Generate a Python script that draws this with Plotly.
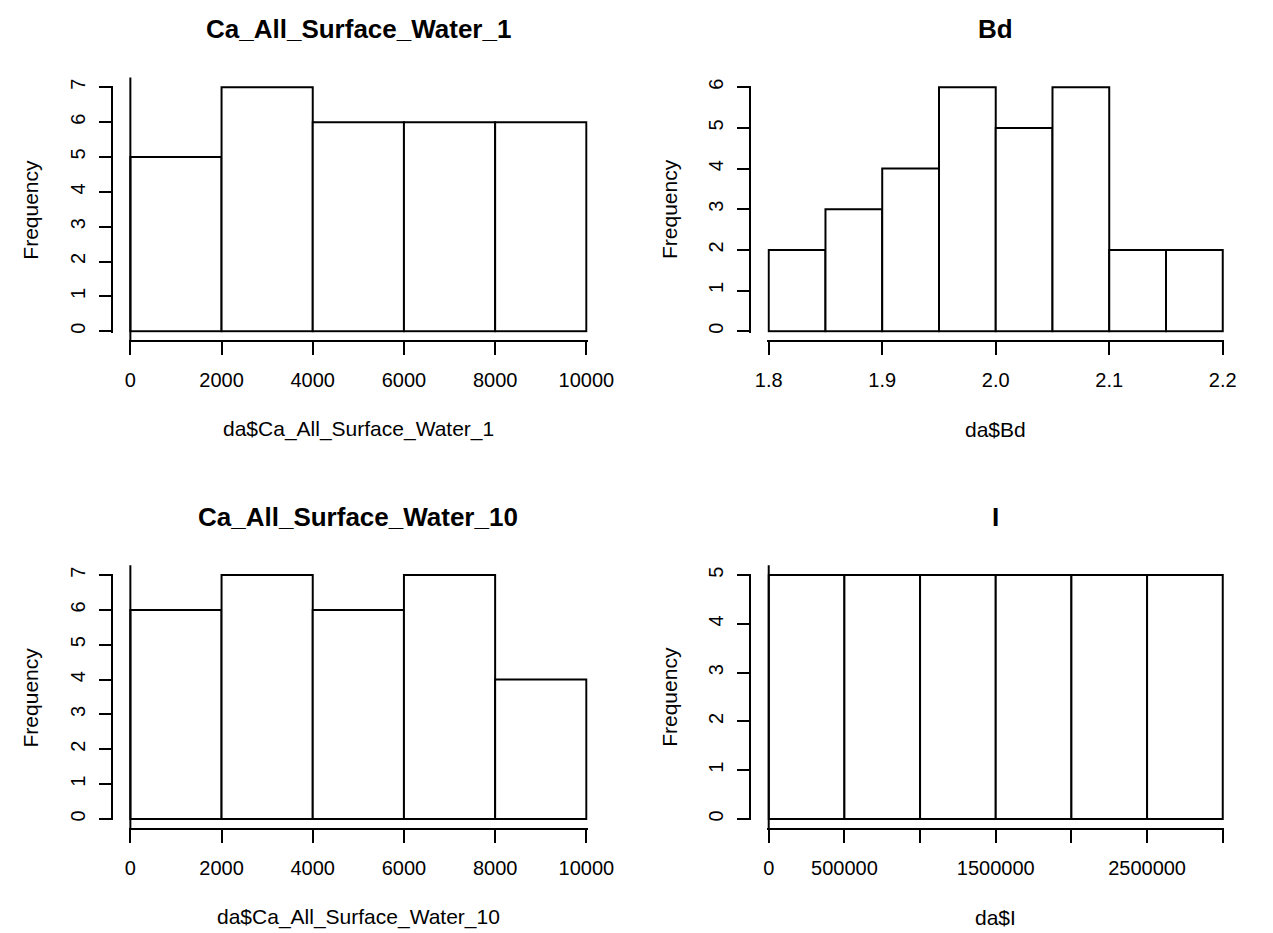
import plotly.graph_objects as go

# ---------------- data ----------------
titles = ["Ca_All_Surface_Water_1", "Bd", "Ca_All_Surface_Water_10", "I"]
xlabels = ["da$Ca_All_Surface_Water_1", "da$Bd", "da$Ca_All_Surface_Water_10", "da$I"]

edges_ca1 = [0, 2000, 4000, 6000, 8000, 10000]
counts_ca1 = [5, 7, 6, 6, 6]

edges_bd = [1.80, 1.85, 1.90, 1.95, 2.00, 2.05, 2.10, 2.15, 2.20]
counts_bd = [2, 3, 4, 6, 5, 6, 2, 2]

edges_ca10 = [0, 2000, 4000, 6000, 8000, 10000]
counts_ca10 = [6, 7, 6, 7, 4]

edges_i = [0, 500000, 1000000, 1500000, 2000000, 2500000, 3000000]
counts_i = [5, 5, 5, 5, 5, 5]

xtick_ca1 = [0, 2000, 4000, 6000, 8000, 10000]
xtext_ca1 = ["0", "2000", "4000", "6000", "8000", "10000"]
xtick_bd = [1.8, 1.9, 2.0, 2.1, 2.2]
xtext_bd = ["1.8", "1.9", "2.0", "2.1", "2.2"]
xtick_ca10 = [0, 2000, 4000, 6000, 8000, 10000]
xtext_ca10 = ["0", "2000", "4000", "6000", "8000", "10000"]
xtick_i = [0, 500000, 1000000, 1500000, 2000000, 2500000, 3000000]
xtext_i = ["0", "500000", "", "1500000", "", "2500000", ""]

ymax_ca1 = 7
ymax_bd = 6
ymax_ca10 = 7
ymax_i = 5

# ---------------- layout geometry (pixels) ----------------
W, H = 1273, 933
FONT = "Liberation Sans, Arial, sans-serif"
LW = 2
PAD = 1.5  # px of slack so outline strokes at the range ends are not clipped

cols = {0: dict(x0=122, x1=592, yax=103, ylab=19),
        1: dict(x0=780, x1=1248, yax=761, ylab=677)}
rows = {0: dict(top=81, bot=327, title=22),
        1: dict(top=573, bot=819, title=514)}
EXT = 10  # R's 4% axis extension, in pixels

panels = [
    (edges_ca1, counts_ca1, xtick_ca1, xtext_ca1, ymax_ca1, 0, 0),
    (edges_bd, counts_bd, xtick_bd, xtext_bd, ymax_bd, 0, 1),
    (edges_ca10, counts_ca10, xtick_ca10, xtext_ca10, ymax_ca10, 1, 0),
    (edges_i, counts_i, xtick_i, xtext_i, ymax_i, 1, 1),
]


def fx(p):
    return p / W


def fy(p):
    return 1 - p / H


fig = go.Figure()
layout = dict(
    width=W, height=H, autosize=False,
    margin=dict(l=0, r=0, t=0, b=0, pad=0),
    paper_bgcolor="white", plot_bgcolor="rgba(0,0,0,0)",
    showlegend=False,
    font=dict(family=FONT, color="black", size=20),
)
annotations = []
shapes = []

for i, (edges, counts, tv, tt, ymax, r, c) in enumerate(panels):
    n = i + 1
    col, row = cols[c], rows[r]
    centers = [(a + b) / 2 for a, b in zip(edges[:-1], edges[1:])]
    widths = [b - a for a, b in zip(edges[:-1], edges[1:])]
    fig.add_trace(go.Bar(
        x=centers, y=counts, width=widths,
        marker=dict(color="white", line=dict(color="black", width=LW)),
        xaxis=f"x{n}", yaxis=f"y{n}", cliponaxis=False, hoverinfo="x+y",
    ))
    xpad = PAD * (edges[-1] - edges[0]) / (col["x1"] - col["x0"])
    ypad = PAD * ymax / (row["bot"] - row["top"])
    layout[f"xaxis{n}"] = dict(
        domain=[fx(col["x0"] - PAD), fx(col["x1"] + PAD)],
        range=[edges[0] - xpad, edges[-1] + xpad],
        anchor="free", position=fy(row["bot"] + EXT),
        showline=True, linecolor="black", linewidth=LW,
        ticks="outside", ticklen=13, tickwidth=LW, tickcolor="black",
        tickmode="array", tickvals=tv, ticktext=tt,
        tickfont=dict(size=20, family=FONT, color="black"),
        showgrid=False, zeroline=False, fixedrange=True,
        ticklabelstandoff=8,
    )
    layout[f"yaxis{n}"] = dict(
        domain=[fy(row["bot"] + PAD), fy(row["top"] - PAD)],
        range=[-ypad, ymax + ypad],
        anchor="free", position=fx(col["yax"]),
        showline=True, linecolor="black", linewidth=LW,
        ticks="outside", ticklen=12, tickwidth=LW, tickcolor="black",
        tickmode="array", tickvals=list(range(0, ymax + 1)),
        tickangle=-90,
        tickfont=dict(size=20, family=FONT, color="black"),
        showgrid=False, zeroline=False, fixedrange=True,
        ticklabelstandoff=6,
    )
    xc = (col["x0"] + col["x1"]) / 2
    annotations.append(dict(text=f"<b>{titles[i]}</b>", x=fx(xc), y=fy(row["title"]),
                            xref="paper", yref="paper", showarrow=False,
                            xanchor="center", yanchor="middle",
                            font=dict(size=26, family=FONT, color="black")))
    annotations.append(dict(text=xlabels[i], x=fx(xc), y=fy(row["bot"] + EXT + 89),
                            xref="paper", yref="paper", showarrow=False,
                            xanchor="center", yanchor="middle",
                            font=dict(size=21, family=FONT, color="black")))
    annotations.append(dict(text="Frequency", x=fx(col["ylab"]),
                            y=fy((row["top"] + row["bot"]) / 2),
                            xref="paper", yref="paper", showarrow=False, textangle=-90,
                            xanchor="center", yanchor="middle",
                            font=dict(size=21, family=FONT, color="black")))
    # vertical reference line at x = 0 across the plot region (abline v=0)
    if edges[0] <= 0 <= edges[-1]:
        xp = col["x0"] + (0 - edges[0]) / (edges[-1] - edges[0]) * (col["x1"] - col["x0"])
        shapes.append(dict(type="line", xref="paper", yref="paper",
                           x0=fx(xp), x1=fx(xp), y0=fy(row["top"] - EXT), y1=fy(row["bot"] + EXT),
                           line=dict(color="black", width=LW)))

layout["annotations"] = annotations
layout["shapes"] = shapes
fig.update_layout(**layout)
fig.write_html("out.html")
